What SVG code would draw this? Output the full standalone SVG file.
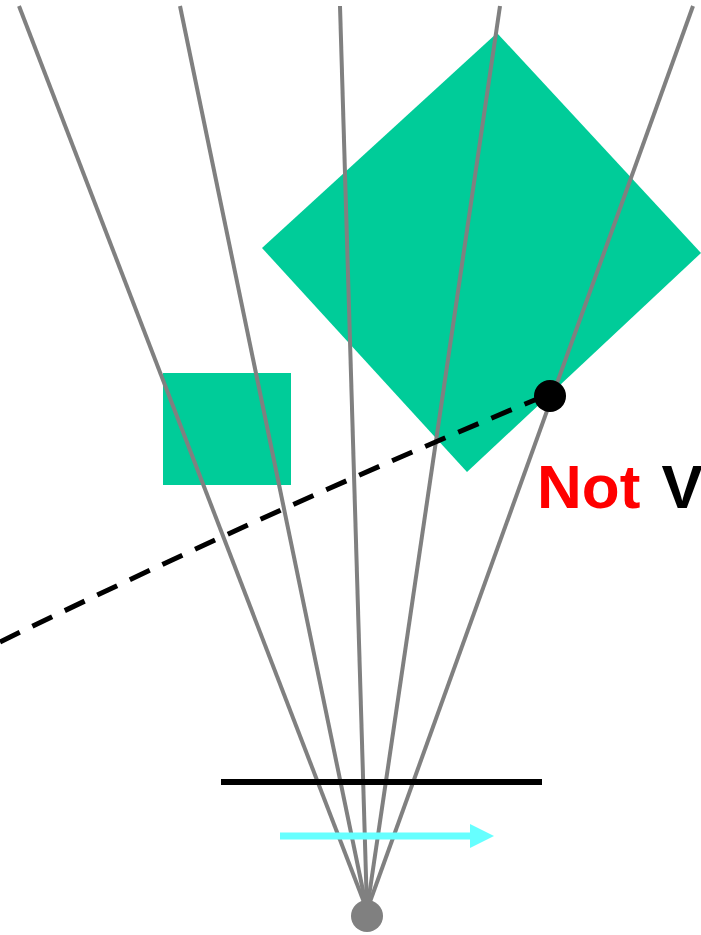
<svg xmlns="http://www.w3.org/2000/svg" width="701" height="935" viewBox="0 0 701 935">
<style>
.shape{fill:#00CC99}
.ray{stroke:#808080;stroke-width:4;fill:none}
.dash{stroke:#000;stroke-width:5;fill:none;stroke-dasharray:22 14}
.lbl{font-family:"Liberation Sans",Arial,sans-serif;font-weight:bold;font-size:62px}
</style>
<g id="diamond"><polygon class="shape" points="497,33 701,253 467,472 262,248"/></g>
<g id="box"><rect class="shape" x="163" y="373" width="128" height="112"/></g>
<g id="connectors">
<line class="ray" x1="19" y1="6" x2="367" y2="910"/>
<line class="ray" x1="180" y1="6" x2="367" y2="910"/>
<line class="ray" x1="340" y1="6" x2="367" y2="910"/>
<line class="ray" x1="500" y1="6" x2="367" y2="910"/>
<line class="ray" x1="693" y1="6" x2="367" y2="910"/>
<path class="dash" d="M0,642 Q270,510 549,394"/>
<line x1="221" y1="782" x2="542" y2="782" stroke="#000" stroke-width="6"/>
<line x1="280" y1="836" x2="472" y2="836" stroke="#66FFFF" stroke-width="7"/>
<polygon points="470,824 494,836 470,848" fill="#66FFFF"/>
</g>
<g id="eye"><circle cx="367" cy="916" r="16" fill="#808080"/></g>
<g id="point"><circle cx="550" cy="396" r="16" fill="#000"/></g>
<g id="label"><text class="lbl" x="537" y="508"><tspan fill="#FF0000">Not</tspan><tspan fill="#000" dx="4"> V</tspan></text></g>
</svg>
